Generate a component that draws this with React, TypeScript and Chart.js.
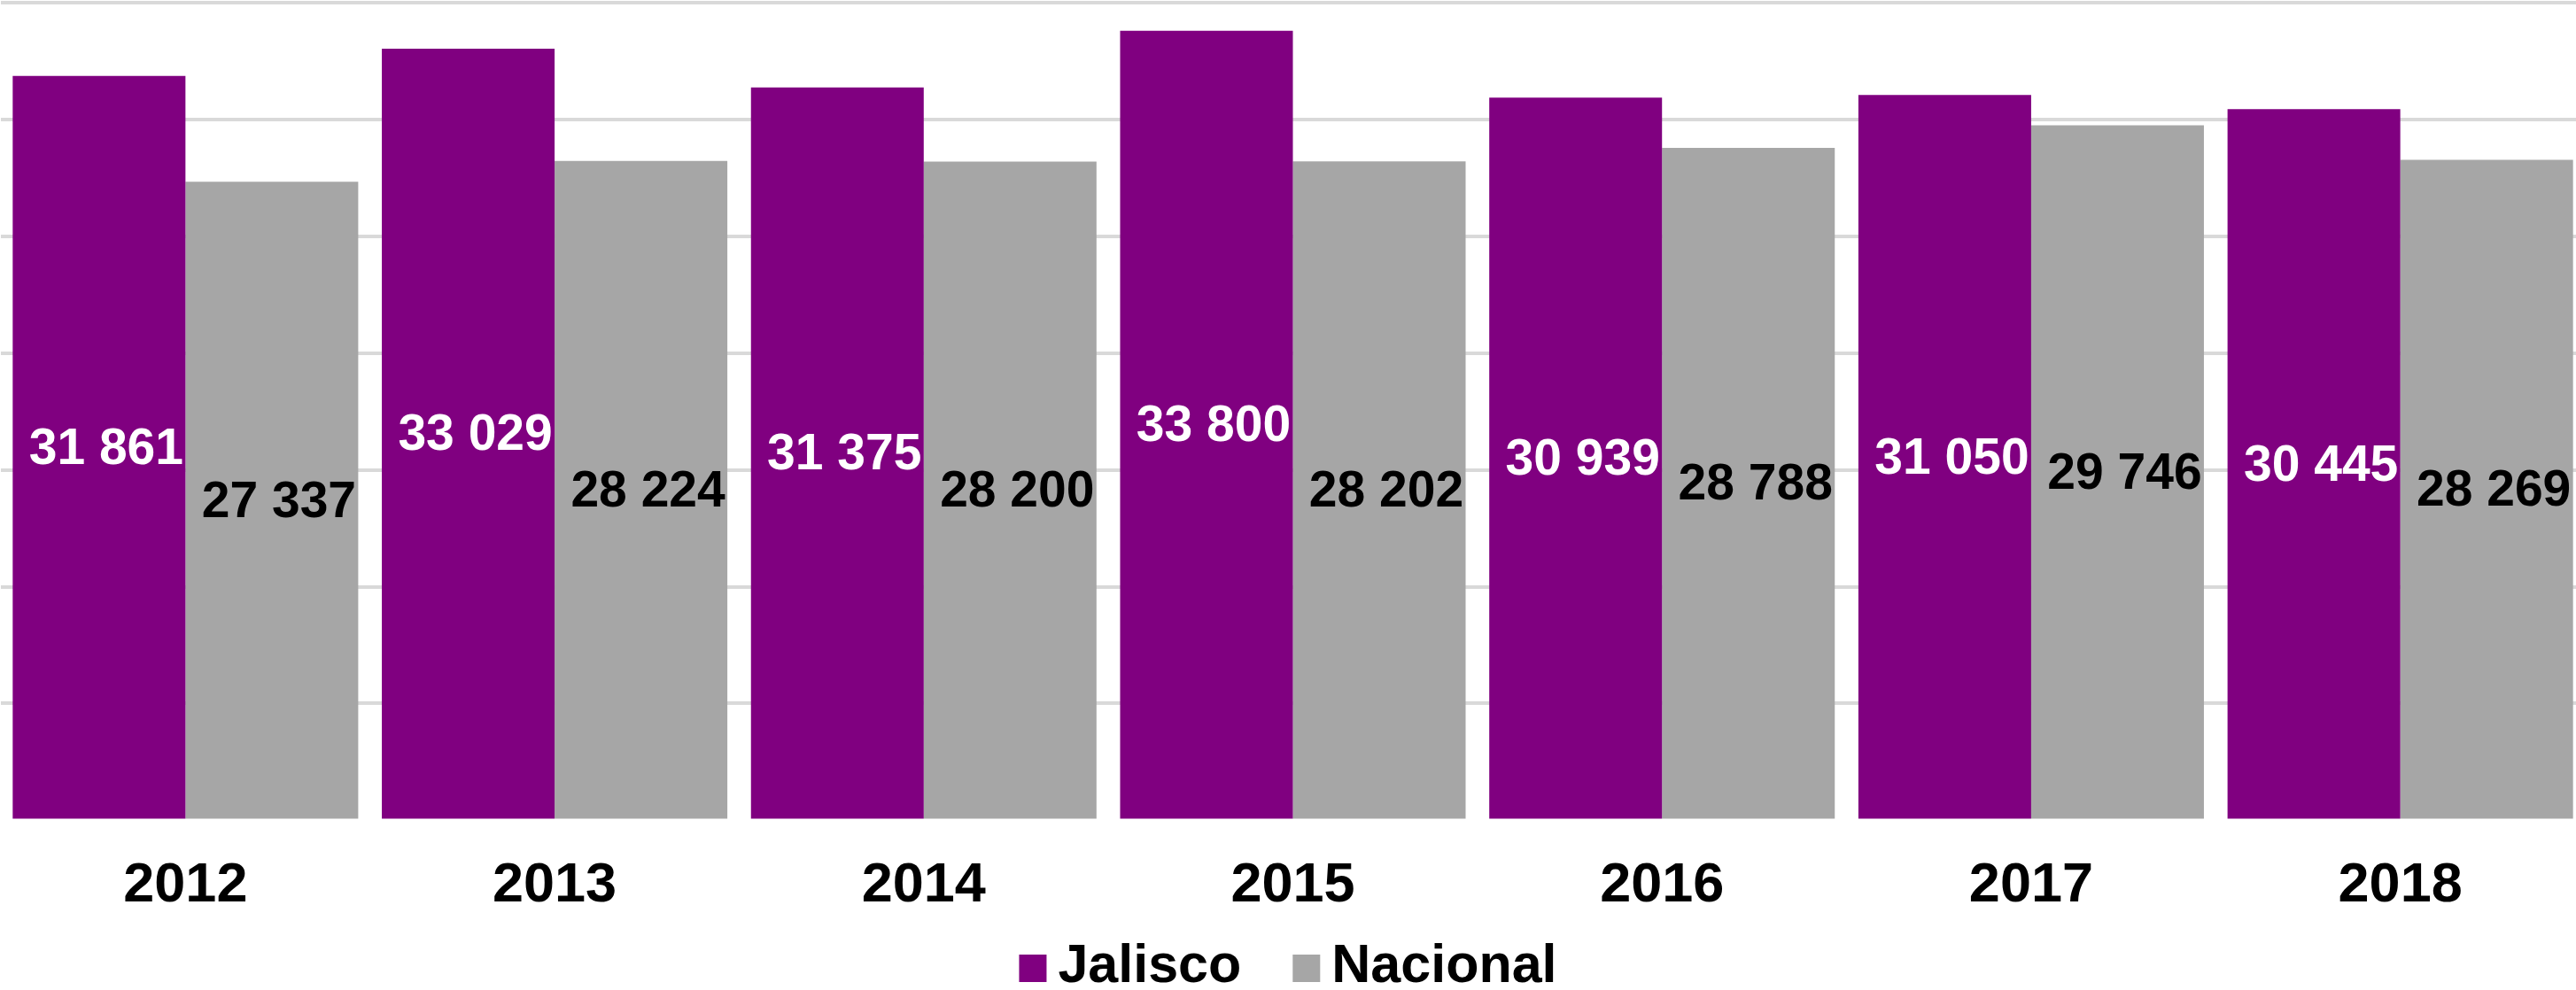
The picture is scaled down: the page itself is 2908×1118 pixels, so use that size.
import React, { useEffect, useRef } from "react";
import { Chart, registerables } from "chart.js";

Chart.register(...registerables);

// ---- data ----
const years = ["2012", "2013", "2014", "2015", "2016", "2017", "2018"];
const seriesNames = ["Jalisco", "Nacional"];
const jalisco = [31861, 33029, 31375, 33800, 30939, 31050, 30445];
const nacional = [27337, 28224, 28200, 28202, 28788, 29746, 28269];
const yMax = 35000;
const yStep = 5000;

// ---- style ----
const PURPLE = "#800080";
const GREY = "#A6A6A6";
const GRID = "#D9D9D9";
const FONT = "'Liberation Sans', Arial, Helvetica, sans-serif";
const VIEW_W = 2908;
const VIEW_H = 1118;
const CANVAS_W = 2918;

function fmt(v: number): string {
  return String(v).replace(/\B(?=(\d{3})+(?!\d))/g, " ");
}

const barLabelPlugin = {
  id: "barLabels",
  afterDatasetsDraw(chart: any) {
    const ctx = chart.ctx;
    ctx.save();
    ctx.font = `bold 57px ${FONT}`;
    ctx.textAlign = "center";
    ctx.textBaseline = "middle";
    chart.data.datasets.forEach((ds: any, di: number) => {
      const meta = chart.getDatasetMeta(di);
      meta.data.forEach((bar: any, i: number) => {
        const p = bar.getProps(["x", "y", "base"], true);
        ctx.fillStyle = di === 0 ? "#FFFFFF" : "#000000";
        ctx.fillText(fmt(ds.data[i]), p.x + 8, (p.y + p.base) / 2 + 3);
      });
    });
    ctx.restore();
  },
};

const bottomLegendPlugin = {
  id: "bottomLegend",
  afterDraw(chart: any) {
    const ctx = chart.ctx;
    ctx.save();
    ctx.font = `bold 61px ${FONT}`;
    const box = 31;
    const gap = 13;
    const itemGap = 58;
    const items = chart.data.datasets.map((ds: any) => ({
      label: ds.label,
      color: ds.backgroundColor,
      w: ctx.measureText(ds.label).width,
    }));
    const total =
      items.reduce((s: number, it: any) => s + box + gap + it.w, 0) +
      itemGap * (items.length - 1);
    let x = VIEW_W / 2 - total / 2;
    const baseY = 1109;
    items.forEach((it: any) => {
      ctx.fillStyle = it.color;
      ctx.fillRect(x, baseY - box, box, box);
      x += box + gap;
      ctx.fillStyle = "#000000";
      ctx.textAlign = "left";
      ctx.textBaseline = "alphabetic";
      ctx.fillText(it.label, x, baseY);
      x += it.w + itemGap;
    });
    ctx.restore();
  },
};

export default function App() {
  const ref = useRef<HTMLCanvasElement | null>(null);

  useEffect(() => {
    if (!ref.current) return;
    const chart = new Chart(ref.current, {
      type: "bar",
      data: {
        labels: years,
        datasets: [
          {
            label: seriesNames[0],
            data: jalisco,
            backgroundColor: PURPLE,
            borderWidth: 0,
            barPercentage: 1,
            categoryPercentage: 0.936,
          },
          {
            label: seriesNames[1],
            data: nacional,
            backgroundColor: GREY,
            borderWidth: 0,
            barPercentage: 1,
            categoryPercentage: 0.936,
          },
        ],
      },
      options: {
        responsive: false,
        devicePixelRatio: 1,
        animation: false,
        layout: { padding: { left: 1, right: 0, top: 3, bottom: 44 } },
        plugins: {
          legend: { display: false },
          tooltip: { enabled: false },
          title: { display: false },
        },
        scales: {
          x: {
            grid: { display: false, drawTicks: false },
            border: { display: false },
            ticks: {
              color: "#000000",
              font: { family: FONT, size: 63, weight: "bold" },
              padding: 36,
              maxRotation: 0,
              autoSkip: false,
            },
          },
          y: {
            min: 0,
            max: yMax,
            ticks: { display: false, stepSize: yStep },
            grid: {
              drawTicks: false,
              lineWidth: 4,
              color: (c: any) =>
                c.tick && c.tick.value === 0 ? "rgba(0,0,0,0)" : GRID,
            },
            border: { display: false },
          },
        },
      },
      plugins: [barLabelPlugin, bottomLegendPlugin],
    });
    return () => chart.destroy();
  }, []);

  return (
    <div
      style={{
        position: "fixed",
        left: 0,
        top: 0,
        width: VIEW_W,
        height: VIEW_H,
        overflow: "hidden",
        background: "#FFFFFF",
      }}
    >
      <canvas
        ref={ref}
        width={CANVAS_W}
        height={VIEW_H}
        style={{ display: "block", width: CANVAS_W, height: VIEW_H }}
      />
    </div>
  );
}
